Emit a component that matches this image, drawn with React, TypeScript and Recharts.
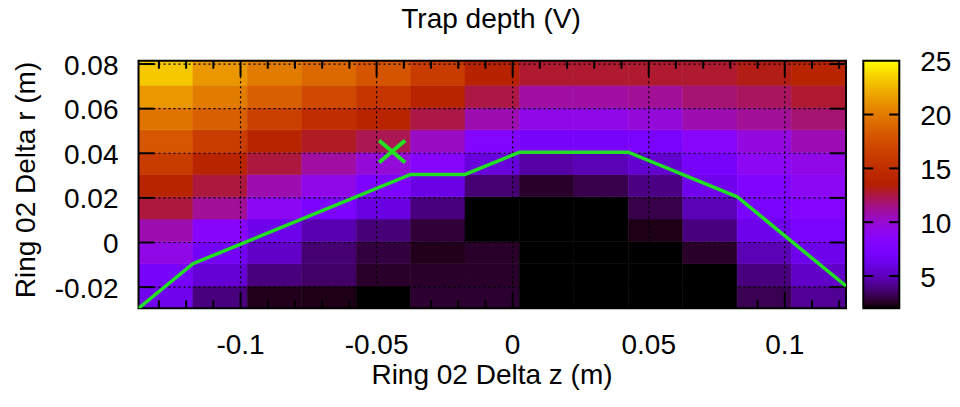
import React from "react";
import { ComposedChart, XAxis, YAxis, ReferenceArea, ReferenceLine, ReferenceDot, Line } from "recharts";

// cell edges of the scan grid (m)
const zEdges = [-0.1375, -0.1175, -0.0975, -0.0775, -0.0575, -0.0375, -0.0175, 0.0025, 0.0225, 0.0425, 0.0625, 0.0825, 0.1025, 0.1225];
const rEdges = [-0.0295, -0.0195, -0.0095, 0.0005, 0.0105, 0.0205, 0.0305, 0.0405, 0.0505, 0.0605, 0.0705, 0.0815];

// trap depth (V), bottom row first, one value per cell
const depthRows = [
  [6.4, 3.9, 2.4, 2.3, 2.0, 2.7, 2.7, 2.0, 2.0, 2.0, 2.0, 3.2, 4.3],
  [7.1, 5.6, 3.9, 3.5, 2.6, 2.6, 2.6, 2.0, 2.0, 2.0, 2.0, 3.9, 5.3],
  [9.4, 6.8, 5.3, 3.7, 2.9, 2.4, 2.6, 2.0, 2.0, 2.0, 2.6, 4.9, 6.3],
  [10.7, 8.4, 6.3, 4.8, 3.8, 2.8, 2.0, 2.0, 2.0, 2.3, 3.9, 6.3, 7.3],
  [12.6, 11.2, 8.9, 7.4, 6.0, 3.9, 2.0, 2.0, 2.0, 3.1, 4.9, 7.3, 8.2],
  [14.0, 12.6, 10.7, 9.3, 7.5, 6.1, 3.7, 2.6, 3.1, 4.0, 6.4, 7.8, 8.9],
  [16.2, 14.0, 12.6, 11.0, 9.8, 8.4, 5.8, 4.6, 4.9, 5.5, 7.1, 8.9, 9.3],
  [18.1, 16.3, 14.0, 13.0, 12.3, 10.3, 8.0, 7.1, 7.1, 7.2, 8.5, 9.6, 10.6],
  [19.7, 18.6, 16.5, 14.9, 14.0, 12.5, 10.7, 9.4, 9.3, 9.8, 10.7, 11.2, 11.8],
  [21.3, 20.1, 18.6, 17.2, 15.6, 14.0, 12.5, 11.0, 11.0, 11.2, 11.8, 12.1, 12.8],
  [23.2, 21.3, 20.1, 19.1, 17.9, 16.2, 13.9, 12.8, 12.8, 12.8, 12.8, 13.2, 14.0],
];

// stability boundary (green line)
const pathZ = [-0.1375, -0.1175, -0.0375, -0.0175, 0.0025, 0.0425, 0.0825, 0.1225];
const pathR = [-0.0295, -0.0095, 0.0305, 0.0305, 0.0405, 0.0405, 0.0205, -0.0195];

// chosen point
const markZ = -0.0443;
const markR = 0.0408;

const zTicks = [-0.1, -0.05, 0, 0.05, 0.1];
const zMinorTicks = [-0.13, -0.12, -0.11, -0.1, -0.09, -0.08, -0.07, -0.06, -0.05, -0.04, -0.03, -0.02, -0.01, 0, 0.01, 0.02, 0.03, 0.04, 0.05, 0.06, 0.07, 0.08, 0.09, 0.1, 0.11, 0.12];
const rTicks = [-0.02, 0, 0.02, 0.04, 0.06, 0.08];

const cbMin = 2;
const cbMax = 25;
const cbTicks = [5, 10, 15, 20, 25];

const FONT = '"Liberation Sans", Arial, Helvetica, sans-serif';
const GREEN = "#22e022";
const FS = 28;

// gnuplot default palette (rgbformulae 7,5,15)
const palette = (v: number) => {
  const t = Math.min(1, Math.max(0, (v - cbMin) / (cbMax - cbMin)));
  const r = Math.sqrt(t);
  const g = t * t * t;
  const b = Math.max(0, Math.sin(2 * Math.PI * t));
  return `rgb(${Math.round(r * 255)},${Math.round(g * 255)},${Math.round(b * 255)})`;
};

const zLo = zEdges[0];
const zHi = zEdges[zEdges.length - 1];
const rLo = rEdges[0];
const rHi = rEdges[rEdges.length - 1];

// tick lengths in data units (plot is ~707 x 248 px)
const pxZ = (zHi - zLo) / 707.5;
const pxR = (rHi - rLo) / 247.6;
const majorLen = 16;
const minorLen = 8;

const cells = depthRows.flatMap((row, j) =>
  row.map((v, i) => ({ z1: zEdges[i], z2: zEdges[i + 1], r1: rEdges[j], r2: rEdges[j + 1], v }))
);
const pathData = pathZ.map((z, i) => ({ x: z, y: pathR[i] }));
const cbData = [
  { x: 0, y: cbMin },
  { x: 1, y: cbMax },
];

const fmt = (v: number) => String(Math.round(v * 1000) / 1000);

const renderXTick = (p: any) => (
  <text x={p.x} y={p.y + 45.5} textAnchor="middle" fontFamily={FONT} fontSize={FS} fill="#000">
    {fmt(p.payload.value)}
  </text>
);

const renderYTick = (p: any) => (
  <text x={p.x} y={p.y + 10.5} textAnchor="end" fontFamily={FONT} fontSize={FS} fill="#000">
    {fmt(p.payload.value)}
  </text>
);

const renderCbTick = (p: any) => (
  <text x={p.x + 21} y={p.y + 10.5} textAnchor="start" fontFamily={FONT} fontSize={FS} fill="#000">
    {p.payload.value}
  </text>
);

const XMark = (p: any) => (
  <g stroke={GREEN} strokeWidth={4}>
    <line x1={p.cx - 13} y1={p.cy - 11} x2={p.cx + 13} y2={p.cy + 11} />
    <line x1={p.cx - 13} y1={p.cy + 11} x2={p.cx + 13} y2={p.cy - 11} />
  </g>
);

const cbStops = Array.from({ length: 61 }, (_, i) => i / 60);

const App = () => (
  <div style={{ position: "absolute", left: 0, top: 0, width: 960, height: 407, background: "#fff" }}>
    <div style={{ position: "absolute", left: 0, top: 0 }}>
      <ComposedChart width={960} height={407} margin={{ top: 60.7, right: 114, bottom: 38.7, left: 18.5 }}>
        <XAxis
          type="number"
          dataKey="x"
          domain={[zLo, zHi]}
          ticks={zTicks}
          interval={0}
          allowDataOverflow
          axisLine={false}
          tickLine={false}
          tickSize={0}
          tickMargin={0}
          height={60}
          tick={renderXTick}
        />
        <YAxis
          type="number"
          dataKey="y"
          domain={[rLo, rHi]}
          ticks={rTicks}
          interval={0}
          allowDataOverflow
          axisLine={false}
          tickLine={false}
          tickSize={0}
          tickMargin={20}
          width={120}
          tick={renderYTick}
        />
        {cells.map((c, k) => (
          <ReferenceArea
            key={"c" + k}
            x1={c.z1}
            x2={c.z2}
            y1={c.r1}
            y2={c.r2}
            fill={palette(c.v)}
            fillOpacity={1}
            stroke={palette(c.v)}
            strokeWidth={0.6}
          />
        ))}
        {zTicks.map((t) => (
          <ReferenceLine key={"gx" + t} x={t} stroke="#000" strokeWidth={1.2} strokeDasharray="2 3" />
        ))}
        {rTicks.map((t) => (
          <ReferenceLine key={"gy" + t} y={t} stroke="#000" strokeWidth={1.2} strokeDasharray="2 3" />
        ))}
        {zMinorTicks.map((t) => {
          const len = (zTicks.includes(t) ? majorLen : minorLen) * pxR;
          return (
            <React.Fragment key={"tz" + t}>
              <ReferenceLine segment={[{ x: t, y: rLo }, { x: t, y: rLo + len }]} stroke="#000" strokeWidth={2} />
              <ReferenceLine segment={[{ x: t, y: rHi }, { x: t, y: rHi - len }]} stroke="#000" strokeWidth={2} />
            </React.Fragment>
          );
        })}
        {rTicks.map((t) => (
          <React.Fragment key={"tr" + t}>
            <ReferenceLine segment={[{ x: zLo, y: t }, { x: zLo + majorLen * pxZ, y: t }]} stroke="#000" strokeWidth={2} />
            <ReferenceLine segment={[{ x: zHi, y: t }, { x: zHi - majorLen * pxZ, y: t }]} stroke="#000" strokeWidth={2} />
          </React.Fragment>
        ))}
        <ReferenceArea x1={zLo} x2={zHi} y1={rLo} y2={rHi} fill="none" stroke="#000" strokeWidth={2} />
        <Line
          data={pathData}
          dataKey="y"
          type="linear"
          stroke={GREEN}
          strokeWidth={3.5}
          dot={false}
          activeDot={false}
          isAnimationActive={false}
        />
        <ReferenceDot x={markZ} y={markR} r={6} shape={(p: any) => <XMark {...p} />} />
      </ComposedChart>
    </div>
    <div style={{ position: "absolute", left: 0, top: 0 }}>
      <ComposedChart
        width={960}
        height={407}
        data={cbData}
        margin={{ top: 60.7, right: 0.7, bottom: 98.7, left: 863.3 }}
      >
        <defs>
          <linearGradient id="cbGrad" x1="0" y1="0" x2="0" y2="1">
            {cbStops.map((s) => (
              <stop key={s} offset={s} stopColor={palette(cbMax - s * (cbMax - cbMin))} />
            ))}
          </linearGradient>
        </defs>
        <XAxis type="number" dataKey="x" domain={[0, 1]} height={0} tick={false} axisLine={false} tickLine={false} />
        <YAxis
          type="number"
          dataKey="y"
          orientation="right"
          domain={[cbMin, cbMax]}
          ticks={cbTicks}
          interval={0}
          axisLine={false}
          tickLine={false}
          tickSize={0}
          tickMargin={0}
          width={60}
          tick={renderCbTick}
        />
        <ReferenceArea x1={0} x2={1} y1={cbMin} y2={cbMax} fill="url(#cbGrad)" fillOpacity={1} />
        {cbTicks.slice(0, 4).map((t) => (
          <React.Fragment key={"cb" + t}>
            <ReferenceLine segment={[{ x: 0, y: t }, { x: 0.28, y: t }]} stroke="#000" strokeWidth={2} />
            <ReferenceLine segment={[{ x: 0.72, y: t }, { x: 1, y: t }]} stroke="#000" strokeWidth={2} />
          </React.Fragment>
        ))}
        <ReferenceArea x1={0} x2={1} y1={cbMin} y2={cbMax} fill="none" stroke="#000" strokeWidth={2} />
        <Line dataKey="y" stroke="none" strokeOpacity={0} dot={false} activeDot={false} isAnimationActive={false} />
      </ComposedChart>
    </div>
    <svg width={960} height={407} style={{ position: "absolute", left: 0, top: 0, pointerEvents: "none" }}>
      <text x={491} y={27.5} textAnchor="middle" fontFamily={FONT} fontSize={FS} fill="#000">
        Trap depth (V)
      </text>
      <text x={492} y={383.5} textAnchor="middle" fontFamily={FONT} fontSize={FS} fill="#000">
        Ring 02 Delta z (m)
      </text>
      <text
        x={34.5}
        y={180}
        textAnchor="middle"
        fontFamily={FONT}
        fontSize={FS}
        fill="#000"
        transform="rotate(-90 34.5 180)"
      >
        Ring 02 Delta r (m)
      </text>
    </svg>
  </div>
);

export default App;
